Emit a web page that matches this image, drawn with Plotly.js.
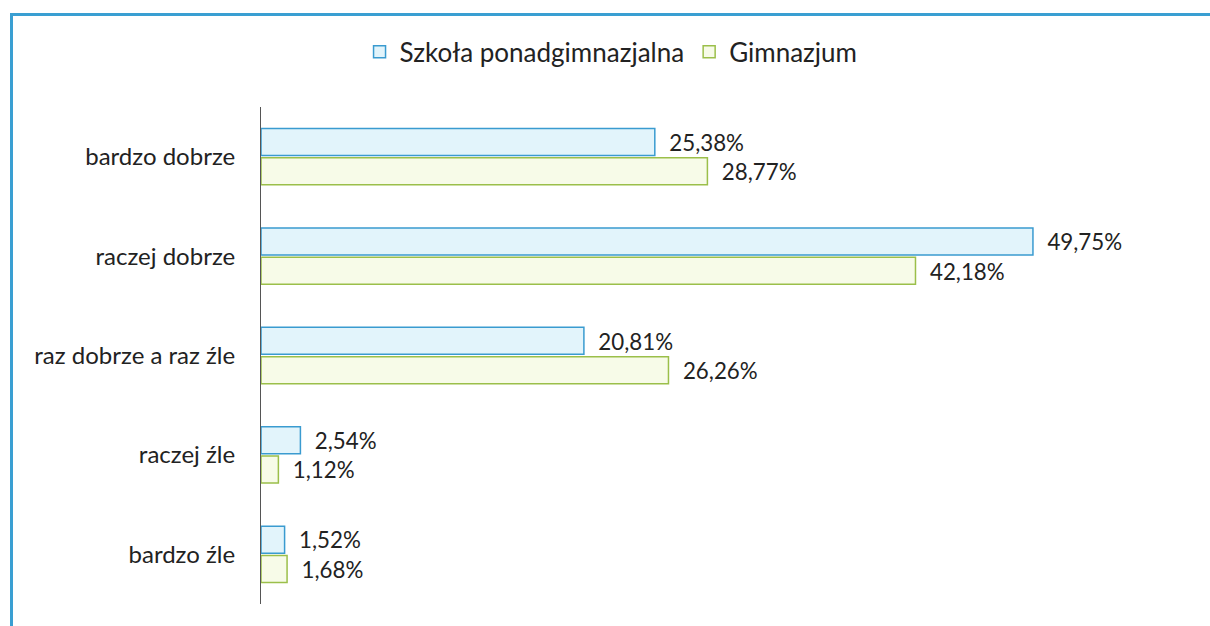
<!DOCTYPE html>
<html>
<head>
<meta charset="utf-8">
<script src="https://cdn.plot.ly/plotly-3.0.1.min.js"></script>
<style>
html,body{margin:0;padding:0;background:#fff;}
#wrap{position:relative;width:1210px;height:626px;overflow:hidden;}
#chart{width:1210px;height:626px;}
#frame{position:absolute;left:10px;top:13px;width:1300px;height:700px;border-top:3px solid #3a9fd2;border-left:3px solid #3a9fd2;box-sizing:border-box;pointer-events:none;}
</style>
</head>
<body>
<div id="wrap"><div id="chart"></div><div id="frame"></div></div>
<script>
const categories = ["bardzo dobrze", "raczej dobrze", "raz dobrze a raz źle", "raczej źle", "bardzo źle"];
const seriesNames = ["Szkoła ponadgimnazjalna", "Gimnazjum"];
const szkolaValues = [25.38, 49.75, 20.81, 2.54, 1.52];
const gimnazjumValues = [28.77, 42.18, 26.26, 1.12, 1.68];

const fontFam = "Lato, 'Open Sans', sans-serif";
const traces = [
  {
    type: "bar", orientation: "h", name: seriesNames[0],
    y: categories, x: szkolaValues,
    marker: {color: "#e2f4fb", line: {color: "#3a9bd0", width: 1.5}},
    texttemplate: "\u00a0\u00a0%{x:.2f}%", textposition: "outside", cliponaxis: false,
    textfont: {family: fontFam, size: 24, color: "#222"}, hoverinfo: "x+y"
  },
  {
    type: "bar", orientation: "h", name: seriesNames[1],
    y: categories, x: gimnazjumValues,
    marker: {color: "#f7fbe8", line: {color: "#9bbf4a", width: 1.5}},
    texttemplate: "\u00a0\u00a0%{x:.2f}%", textposition: "outside", cliponaxis: false,
    textfont: {family: fontFam, size: 24, color: "#222"}, hoverinfo: "x+y"
  }
];

const layout = {
  width: 1210, height: 626,
  margin: {l: 261, r: 18, t: 107, b: 22},
  paper_bgcolor: "#fff", plot_bgcolor: "#fff",
  separators: ",.",
  barmode: "group", bargap: 0.41, bargroupgap: 0.08,
  font: {family: fontFam, size: 24, color: "#222"},
  showlegend: true,
  legend: {
    orientation: "h", xref: "container", yref: "container",
    x: 0.505, xanchor: "center", y: 0.917, yanchor: "middle",
    font: {family: fontFam, size: 26, color: "#222"},
    itemwidth: 30, traceorder: "normal", itemclick: false
  },
  xaxis: {range: [0, 60], visible: false, showgrid: false, zeroline: false, fixedrange: true},
  yaxis: {
    autorange: "reversed", showgrid: false, zeroline: false,
    showline: true, linecolor: "#555", linewidth: 1,
    ticks: "", ticklabelstandoff: 20, tickfont: {family: fontFam, size: 24, color: "#222"},
    fixedrange: true
  }
};

Plotly.newPlot("chart", traces, layout, {displayModeBar: false, staticPlot: true});
</script>
</body>
</html>
